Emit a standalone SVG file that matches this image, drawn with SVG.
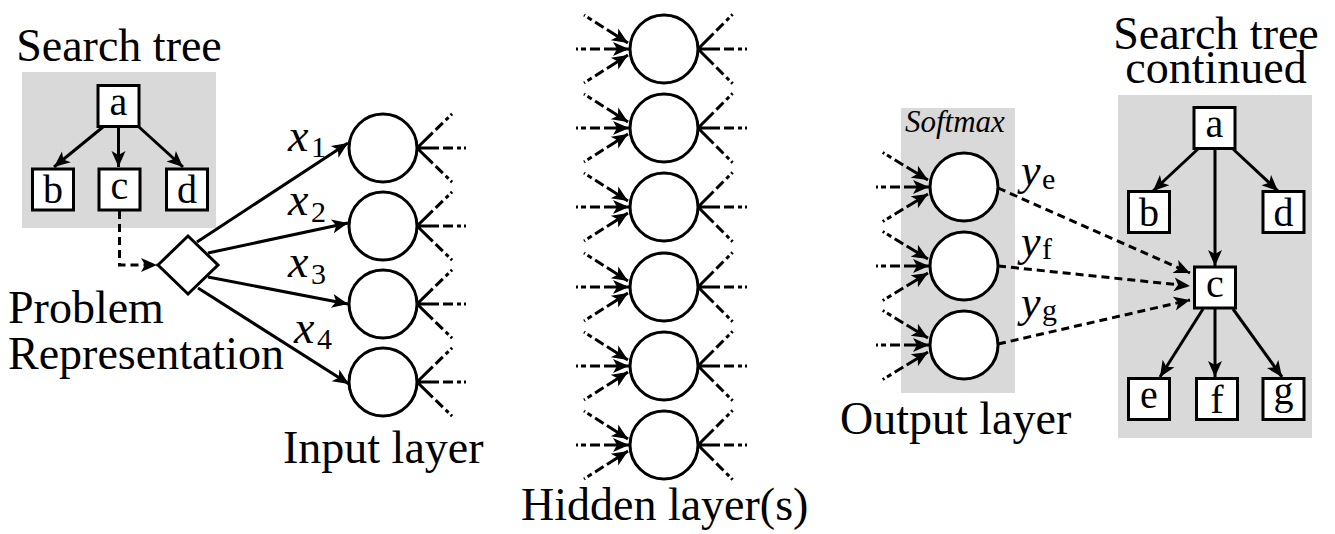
<svg xmlns="http://www.w3.org/2000/svg" width="1335" height="534" viewBox="0 0 1335 534">
<style>
.t{font-family:"Liberation Serif","Times New Roman",serif;font-size:46px;fill:#000}
.it{font-style:italic}
.sub{font-size:30px}
.lt{font-family:"Liberation Serif","Times New Roman",serif;font-size:40px;text-anchor:middle;fill:#000}
.bx{fill:#fff;stroke:#000;stroke-width:3}
.nd{fill:#fff;stroke:#000;stroke-width:3}
.gray{fill:#d9d9d9}
.ln{stroke:#000;stroke-width:3;fill:none}
.ar{marker-end:url(#ah)}
.dsh{stroke-dasharray:8 5}
.fo{stroke-dasharray:22 4 10 4 4 3 2 60}
.fi{stroke-dasharray:25 4 10 4 5 3 2 60;marker-start:url(#ahr)}
</style>
<defs>
<marker id="ah" markerUnits="userSpaceOnUse" viewBox="-18 -9 20 18" markerWidth="20" markerHeight="18" refX="0" refY="0" orient="auto" overflow="visible"><path d="M0,0 L-16,-7 L-12,0 L-16,7 Z" fill="#000"/></marker>
<marker id="ahr" markerUnits="userSpaceOnUse" viewBox="-18 -9 20 18" markerWidth="20" markerHeight="18" refX="0" refY="0" orient="auto-start-reverse" overflow="visible"><path d="M0,0 L-16,-7 L-12,0 L-16,7 Z" fill="#000"/></marker>
</defs>
<rect width="1335" height="534" fill="#fff"/>
<g id="backgrounds">
<rect class="gray" x="22" y="72" width="194" height="156"/>
<rect class="gray" x="901" y="108" width="114" height="285"/>
<rect class="gray" x="1118" y="95" width="194" height="343"/>
</g>
<g id="labels">
<text class="t" x="119" y="61" text-anchor="middle">Search tree</text>
<text class="t" x="8" y="323">Problem</text>
<text class="t" x="8" y="369">Representation</text>
<text class="t" x="283" y="463">Input layer</text>
<text class="t" x="521" y="520">Hidden layer(s)</text>
<text class="t" x="840" y="434">Output layer</text>
<text class="t" x="1216" y="49" text-anchor="middle">Search tree</text>
<text class="t" x="1216" y="83" text-anchor="middle">continued</text>
<text class="t it" x="905" y="132" style="font-size:31px">Softmax</text>
<text class="t it" x="288" y="151" style="font-size:46px">x</text><text class="t sub" x="311" y="157">1</text>
<text class="t it" x="288" y="215" style="font-size:46px">x</text><text class="t sub" x="311" y="222">2</text>
<text class="t it" x="288" y="277" style="font-size:46px">x</text><text class="t sub" x="311" y="284">3</text>
<text class="t it" x="294" y="343" style="font-size:46px">x</text><text class="t sub" x="317" y="349">4</text>
<text class="t it" x="1021" y="185" style="font-size:44px">y</text><text class="t sub" x="1042" y="189">e</text>
<text class="t it" x="1021" y="256" style="font-size:44px">y</text><text class="t sub" x="1042" y="259">f</text>
<text class="t it" x="1021" y="317" style="font-size:44px">y</text><text class="t sub" x="1042" y="320">g</text>
</g>
<g id="connectors">
<!-- left tree -->
<line class="ln ar" x1="103" y1="127" x2="54" y2="167"/>
<line class="ln ar" x1="118.5" y1="127" x2="118.5" y2="167"/>
<line class="ln ar" x1="139" y1="127" x2="183" y2="167"/>
<path class="ln ar dsh" d="M119.5,211 V265 H157"/>
<!-- diamond to input -->
<line class="ln ar" x1="197" y1="242" x2="348" y2="143"/>
<line class="ln ar" x1="208" y1="253" x2="348" y2="223"/>
<line class="ln ar" x1="208" y1="277" x2="348" y2="304"/>
<line class="ln ar" x1="198" y1="288" x2="349" y2="384"/>
<!-- input outgoing -->
<path class="ln fo" d="M417,148 L468,148 M417,148 L453,113 M417,148 L453,183"/>
<path class="ln fo" d="M417,226 L468,226 M417,226 L453,191 M417,226 L453,261"/>
<path class="ln fo" d="M417,304 L468,304 M417,304 L453,269 M417,304 L453,339"/>
<path class="ln fo" d="M417,382 L468,382 M417,382 L453,347 M417,382 L453,417"/>
<!-- hidden incoming -->
<path class="ln fi" d="M629,49 L575,49"/><path class="ln fi" d="M628,43 L584,15"/><path class="ln fi" d="M628,55 L584,83"/>
<path class="ln fi" d="M629,128 L575,128"/><path class="ln fi" d="M628,122 L584,94"/><path class="ln fi" d="M628,134 L584,162"/>
<path class="ln fi" d="M629,207 L575,207"/><path class="ln fi" d="M628,201 L584,173"/><path class="ln fi" d="M628,213 L584,241"/>
<path class="ln fi" d="M629,287 L575,287"/><path class="ln fi" d="M628,281 L584,253"/><path class="ln fi" d="M628,293 L584,321"/>
<path class="ln fi" d="M629,366 L575,366"/><path class="ln fi" d="M628,360 L584,332"/><path class="ln fi" d="M628,372 L584,400"/>
<path class="ln fi" d="M629,445 L575,445"/><path class="ln fi" d="M628,439 L584,411"/><path class="ln fi" d="M628,451 L584,479"/>
<!-- hidden outgoing -->
<path class="ln fo" d="M698,49 L747,49 M698,49 L733,14 M698,49 L733,84"/>
<path class="ln fo" d="M698,128 L747,128 M698,128 L733,93 M698,128 L733,163"/>
<path class="ln fo" d="M698,207 L747,207 M698,207 L733,172 M698,207 L733,242"/>
<path class="ln fo" d="M698,287 L747,287 M698,287 L733,252 M698,287 L733,322"/>
<path class="ln fo" d="M698,366 L747,366 M698,366 L733,331 M698,366 L733,401"/>
<path class="ln fo" d="M698,445 L747,445 M698,445 L733,410 M698,445 L733,480"/>
<!-- output incoming -->
<path class="ln fi" d="M929,187 L873,187"/><path class="ln fi" d="M928,180 L882,152"/><path class="ln fi" d="M928,194 L882,222"/>
<path class="ln fi" d="M929,266 L873,266"/><path class="ln fi" d="M928,259 L882,231"/><path class="ln fi" d="M928,273 L882,301"/>
<path class="ln fi" d="M929,345 L873,345"/><path class="ln fi" d="M928,338 L882,310"/><path class="ln fi" d="M928,352 L882,380"/>
<!-- output to tree -->
<line class="ln ar dsh" x1="998" y1="188" x2="1190" y2="273"/>
<line class="ln ar dsh" x1="998" y1="266" x2="1190" y2="286"/>
<line class="ln ar dsh" x1="998" y1="344" x2="1190" y2="300"/>
<!-- right tree -->
<line class="ln ar" x1="1198" y1="149" x2="1153" y2="191"/>
<line class="ln ar" x1="1215" y1="149" x2="1215" y2="266"/>
<line class="ln ar" x1="1233" y1="149" x2="1278" y2="191"/>
<line class="ln ar" x1="1203" y1="309" x2="1160" y2="377"/>
<line class="ln ar" x1="1215" y1="309" x2="1215" y2="377"/>
<line class="ln ar" x1="1233" y1="309" x2="1282" y2="377"/>
</g>
<g id="lt-a"><rect class="bx" x="98" y="85.5" width="41" height="41"/><text class="lt" x="118.5" y="115">a</text></g>
<g id="lt-b"><rect class="bx" x="32.5" y="169" width="41" height="41"/><text class="lt" x="53" y="203">b</text></g>
<g id="lt-c"><rect class="bx" x="99" y="169" width="41" height="41"/><text class="lt" x="119.5" y="198.5">c</text></g>
<g id="lt-d"><rect class="bx" x="166.5" y="169" width="41" height="41"/><text class="lt" x="187" y="203">d</text></g>
<g id="problem"><polygon class="nd" points="158,265 188,236 218,265 188,294"/></g>
<g id="in1"><circle class="nd" cx="383" cy="148" r="34"/></g>
<g id="in2"><circle class="nd" cx="383" cy="226" r="34"/></g>
<g id="in3"><circle class="nd" cx="383" cy="304" r="34"/></g>
<g id="in4"><circle class="nd" cx="383" cy="382" r="34"/></g>
<g id="h1"><circle class="nd" cx="664" cy="49" r="34"/></g>
<g id="h2"><circle class="nd" cx="664" cy="128" r="34"/></g>
<g id="h3"><circle class="nd" cx="664" cy="207" r="34"/></g>
<g id="h4"><circle class="nd" cx="664" cy="287" r="34"/></g>
<g id="h5"><circle class="nd" cx="664" cy="366" r="34"/></g>
<g id="h6"><circle class="nd" cx="664" cy="445" r="34"/></g>
<g id="out-e"><circle class="nd" cx="964" cy="187" r="34"/></g>
<g id="out-f"><circle class="nd" cx="964" cy="266" r="34"/></g>
<g id="out-g"><circle class="nd" cx="964" cy="345" r="34"/></g>
<g id="rt-a"><rect class="bx" x="1194" y="107.5" width="41" height="41"/><text class="lt" x="1214.5" y="137">a</text></g>
<g id="rt-b"><rect class="bx" x="1128.5" y="191.5" width="41" height="41"/><text class="lt" x="1149" y="225.5">b</text></g>
<g id="rt-d"><rect class="bx" x="1263" y="191.5" width="41" height="41"/><text class="lt" x="1283.5" y="225.5">d</text></g>
<g id="rt-c"><rect class="bx" x="1194.5" y="267" width="41" height="41"/><text class="lt" x="1215" y="296.5">c</text></g>
<g id="rt-e"><rect class="bx" x="1128.5" y="378.5" width="41" height="41"/><text class="lt" x="1149" y="408">e</text></g>
<g id="rt-f"><rect class="bx" x="1196.5" y="378.5" width="41" height="41"/><text class="lt" x="1217" y="412.5">f</text></g>
<g id="rt-g"><rect class="bx" x="1263" y="378.5" width="41" height="41"/><text class="lt" x="1283.5" y="403.5">g</text></g>
</svg>
